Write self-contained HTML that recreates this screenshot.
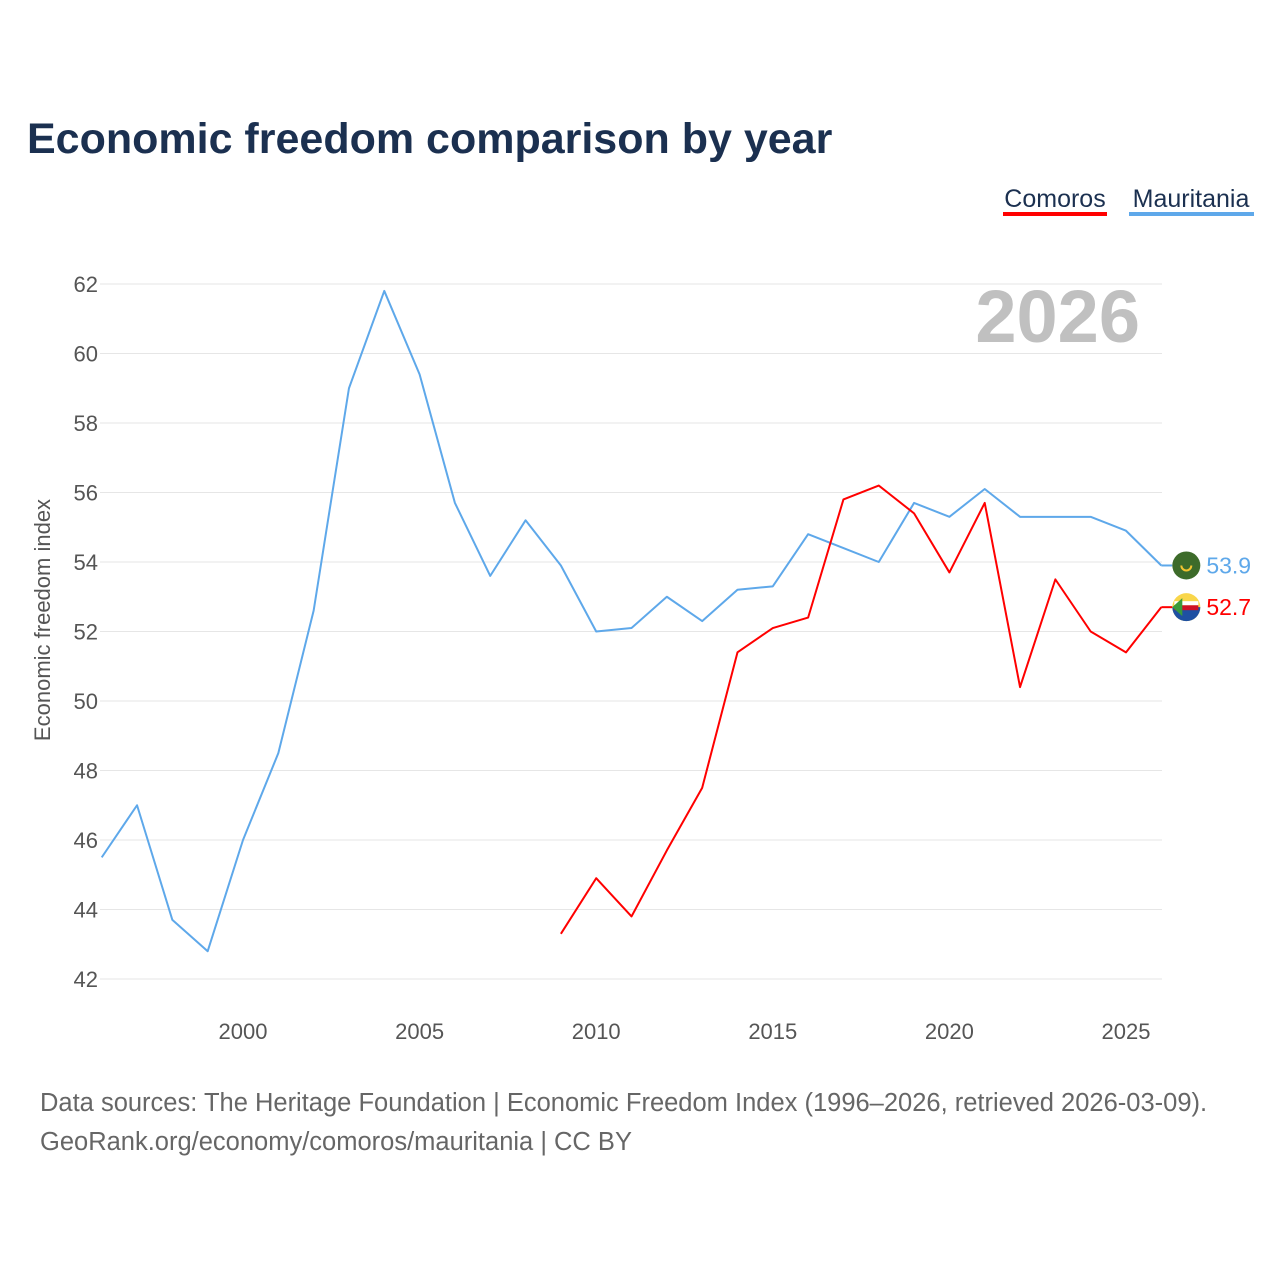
<!DOCTYPE html>
<html><head><meta charset="utf-8">
<style>
body{margin:0;background:#fff;font-family:"Liberation Sans",sans-serif;}
#wrap{position:relative;width:1280px;height:1280px;overflow:hidden;}
</style></head>
<body>
<div id="wrap">
<svg id="chart" width="1280" height="1280">
<text x="27" y="153" font-size="43" font-weight="bold" fill="#1b3050">Economic freedom comparison by year</text>
<g>
<text x="1055" y="207" font-size="25" fill="#1b3050" text-anchor="middle">Comoros</text>
<rect x="1003" y="212" width="104" height="4" fill="#ff0000"/>
<text x="1191" y="207" font-size="25" fill="#1b3050" text-anchor="middle">Mauritania</text>
<rect x="1129" y="212" width="125" height="4" fill="#5ea8ea"/>
</g>
<text x="1140" y="342" font-size="74" font-weight="bold" fill="#c0c0c0" text-anchor="end">2026</text>
<g id="grid"></g>
<g id="axes"></g>
<g id="series"></g>
<text transform="translate(50,620) rotate(-90)" font-size="22" fill="#555" text-anchor="middle">Economic freedom index</text>
<text x="40" y="1111" font-size="25.5" fill="#666">Data sources: The Heritage Foundation | Economic Freedom Index (1996–2026, retrieved 2026-03-09).</text>
<text x="40" y="1150" font-size="25.5" fill="#666">GeoRank.org/economy/comoros/mauritania | CC BY</text>
</svg>
</div>
<script>
const yTicks=[42,44,46,48,50,52,54,56,58,60,62];
const xTicks=[2000,2005,2010,2015,2020,2025];
const mauritaniaYears=[1996,1997,1998,1999,2000,2001,2002,2003,2004,2005,2006,2007,2008,2009,2010,2011,2012,2013,2014,2015,2016,2017,2018,2019,2020,2021,2022,2023,2024,2025,2026];
const mauritaniaValues=[45.5,47.0,43.7,42.8,46.0,48.5,52.6,59.0,61.8,59.4,55.7,53.6,55.2,53.9,52.0,52.1,53.0,52.3,53.2,53.3,54.8,54.4,54.0,55.7,55.3,56.1,55.3,55.3,55.3,54.9,53.9];
const comorosYears=[2009,2010,2011,2012,2013,2014,2015,2016,2017,2018,2019,2020,2021,2022,2023,2024,2025,2026];
const comorosValues=[43.3,44.9,43.8,45.7,47.5,51.4,52.1,52.4,55.8,56.2,55.4,53.7,55.7,50.4,53.5,52.0,51.4,52.7];
const NS="http://www.w3.org/2000/svg";
const X=y=>243+(y-2000)*35.32;
const Y=v=>979-(v-42)*34.75;
function mk(tag,attrs,parent){const e=document.createElementNS(NS,tag);for(const k in attrs)e.setAttribute(k,attrs[k]);parent.appendChild(e);return e;}
const grid=document.getElementById('grid'),axes=document.getElementById('axes'),ser=document.getElementById('series');
yTicks.forEach(t=>{
 const l=mk('line',{x1:100,x2:1162,y1:Y(t),y2:Y(t),stroke:'#e6e6e6','stroke-width':1},grid);
 
 
 const tx=mk('text',{x:98,y:Y(t)+8,'font-size':22,fill:'#555','text-anchor':'end'},axes);
 tx.textContent=t;
 
 
});
xTicks.forEach(t=>{
 const tx=mk('text',{x:X(t),y:1039,'font-size':22,fill:'#555','text-anchor':'middle'},axes);
 tx.textContent=t;
 
 
});
function line(years,vals,color,name){
 const p=mk('polyline',{points:years.map((y,i)=>X(y)+','+Y(vals[i])).join(' '),fill:'none',stroke:color,'stroke-width':2,'stroke-linejoin':'round'},ser);
 
 
}
line(mauritaniaYears,mauritaniaValues,'#5ea8ea','mauritania-line');
line(comorosYears,comorosValues,'#ff0000','comoros-line');
function endLabel(years,vals,color,name,flag){
 const y=years[years.length-1],v=vals[vals.length-1];
 const cx=X(y)+25,cy=Y(v);
 mk('line',{x1:X(y),x2:cx-14,y1:cy,y2:cy,stroke:color,'stroke-width':2},ser);
 const c=mk('circle',{cx:cx,cy:cy,r:14,fill:flag[0]},ser);
 
 
 if(flag[1]){mk('path',{d:`M${cx-14},${cy} A14,14 0 0 0 ${cx+14},${cy} Z`,fill:flag[1]},ser);mk('rect',{x:cx-12,y:cy-2,width:24,height:5,fill:'#ce1126'},ser);mk('rect',{x:cx-12,y:cy-6,width:24,height:4,fill:'#fff'},ser);mk('path',{d:`M${cx-14},${cy} L${cx-4},${cy-9} L${cx-4},${cy+9} Z`,fill:'#3a9b3a'},ser);}
 else{mk('path',{d:`M${cx-5},${cy} A5,5 0 0 0 ${cx+5},${cy}`,fill:'none',stroke:'#f4c430','stroke-width':2},ser);}
 const t=mk('text',{x:cx+20,y:cy+8,'font-size':23,fill:color},ser);
 t.textContent=v.toFixed(1);
 
 
}
endLabel(mauritaniaYears,mauritaniaValues,'#5ea8ea','mauritania',['#3d6b2a',null]);
endLabel(comorosYears,comorosValues,'#ff0000','comoros',['#f9d64a','#1e50a2']);
</script>
</body></html>
